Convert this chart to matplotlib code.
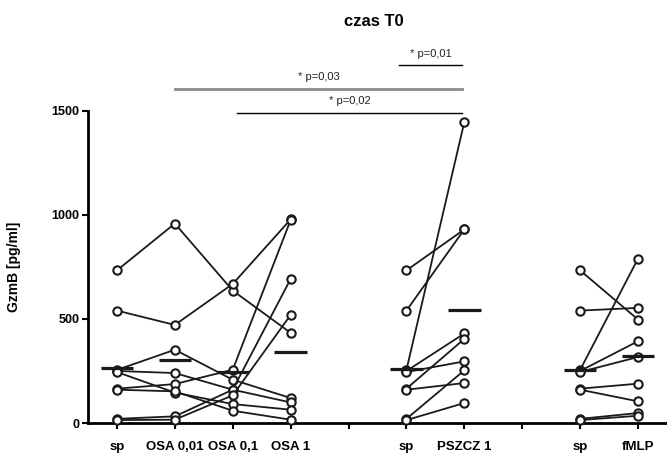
import numpy as np
import matplotlib
matplotlib.use('Agg')
import matplotlib.pyplot as plt

plt.rcParams['font.family'] = ['Liberation Sans', 'DejaVu Sans']

# =========================
# DATA
# =========================
tick_labels = ['sp', 'OSA 0,01', 'OSA 0,1', 'OSA 1', '', 'sp', 'PSZCZ 1', '', 'sp', 'fMLP']

sp_vals = [733, 540, 255, 250, 245, 165, 160, 20, 14]

osa_001 = [958, 471, 352, 240, 146, 187, 152, 32, 16]
osa_01 = [636, 668, 208, 160, 91, 256, 59, 160, 133]
osa_1 = [433, 978, 120, 99, 64, 975, 16, 692, 519]

pszcz_1 = [930, 930, 1446, 430, 296, 404, 192, 253, 96]

fmlp = [497, 553, 790, 393, 317, 189, 104, 48, 35]

# mean bars as drawn in the figure
mean_pos = [0, 1, 2, 3, 5, 6, 8, 9]
mean_vals = [263, 301, 244, 339, 258, 541, 253, 320]

# significance brackets: (x start, x end, y, label, colour, width)
brackets = [
    (4.87, 5.96, 1718, '* p=0,01', 'black', 1.0),
    (1.0, 5.96, 1606, '* p=0,03', '#8a8a8a', 2.0),
    (2.07, 5.96, 1491, '* p=0,02', 'black', 1.0),
]

# =========================
# PLOT
# =========================
fig = plt.figure(figsize=(6.67, 4.53), dpi=100)
ax = fig.add_axes([0.1319, 0.0662, 0.8681, 0.6894])

groups = [
    ([0, 1, 2, 3], [sp_vals, osa_001, osa_01, osa_1]),
    ([5, 6], [sp_vals, pszcz_1]),
    ([8, 9], [sp_vals, fmlp]),
]

for xs, cols in groups:
    vals = np.array(cols).T
    for row in vals:
        ax.plot(xs, row, '-o', color='#1a1a1a', lw=1.3,
                ms=6, mfc='white', mec='#1a1a1a', mew=1.5,
                clip_on=False, zorder=3)

for x, m in zip(mean_pos, mean_vals):
    ax.plot([x - 0.28, x + 0.28], [m, m], color='#1a1a1a', lw=2.3,
            zorder=4, solid_capstyle='butt')

for x0, x1, y, lab, c, w in brackets:
    ax.plot([x0, x1], [y, y], color=c, lw=w, clip_on=False)
    ax.text((x0 + x1) / 2, y + 30, lab, ha='center', va='bottom',
            fontsize=8, color='#222222')

ax.set_xlim(-0.5, 9.5)
ax.set_ylim(0, 1500)
ax.set_xticks(range(10))
ax.set_xticklabels(tick_labels, fontsize=9.5, fontweight='bold')
ax.set_yticks([0, 500, 1000, 1500])
ax.set_yticklabels(['0', '500', '1000', '1500'], fontsize=9, fontweight='bold')

ax.spines['top'].set_visible(False)
ax.spines['right'].set_visible(False)
ax.spines['left'].set_linewidth(2)
ax.spines['bottom'].set_linewidth(2)
ax.tick_params(axis='x', direction='out', length=4, width=1.5, pad=9)
ax.tick_params(axis='y', direction='out', length=4, width=1.5, pad=2)

ax.set_ylabel('GzmB [pg/ml]', fontsize=10, fontweight='bold', labelpad=22)

fig.text(374 / 667, 1 - 22 / 453, 'czas T0', ha='center', va='center',
         fontsize=12, fontweight='bold')

plt.savefig('out.png', dpi=100)
plt.close()
